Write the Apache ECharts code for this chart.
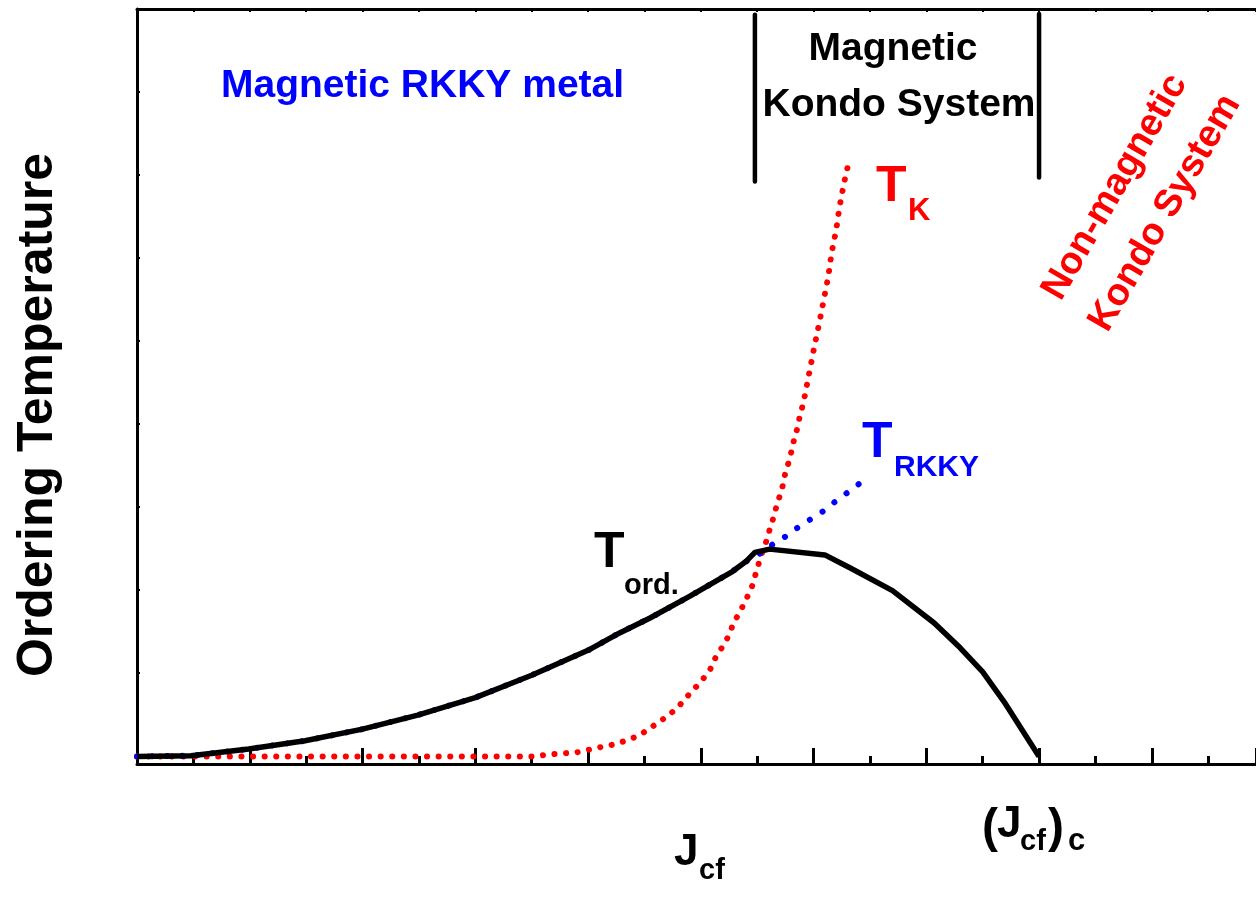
<!DOCTYPE html>
<html>
<head>
<meta charset="utf-8">
<script src="https://cdn.jsdelivr.net/npm/echarts@6/dist/echarts.min.js"></script>
<style>
  html, body { margin: 0; padding: 0; background: #ffffff; }
  #chart { width: 1256px; height: 901px; }
</style>
</head>
<body>
<div id="chart"></div>
<script>
// Ordering temperature T_ord versus J_cf (solid black)
const tOrdX = [0, 0.48, 0.99, 1.49, 2.0, 2.49, 3.0, 3.5, 4.0, 4.28, 4.55, 4.9, 5.28, 5.4, 5.48, 5.61, 6.1, 6.33, 6.7, 7.07, 7.3, 7.5, 7.69, 8.0];
const tOrdY = [0.09, 0.10, 0.18, 0.28, 0.42, 0.59, 0.80, 1.07, 1.37, 1.58, 1.76, 2.02, 2.32, 2.44, 2.55, 2.59, 2.52, 2.36, 2.09, 1.70, 1.40, 1.11, 0.75, 0.09];

// Kondo temperature T_K (red dotted)
const tKX = [0, 1, 2, 3, 3.5, 3.69, 3.9, 4.0, 4.1, 4.21, 4.31, 4.41, 4.52, 4.62, 4.72, 4.82, 4.91, 5.0, 5.08, 5.13, 5.19, 5.25, 5.29, 5.35, 5.4, 5.45, 5.48, 5.51, 5.54, 5.58, 5.61, 5.64, 5.67, 5.70, 5.73, 5.75, 5.78, 5.81, 5.83, 5.86, 5.88, 5.91, 6.01, 6.05, 6.09, 6.13, 6.16, 6.2, 6.23, 6.27, 6.30];
const tKY = [0.09, 0.09, 0.09, 0.09, 0.09, 0.12, 0.14, 0.17, 0.20, 0.23, 0.27, 0.32, 0.40, 0.50, 0.59, 0.72, 0.86, 0.99, 1.13, 1.28, 1.41, 1.55, 1.70, 1.84, 1.98, 2.12, 2.26, 2.40, 2.53, 2.68, 2.82, 2.95, 3.10, 3.23, 3.37, 3.51, 3.64, 3.80, 3.93, 4.06, 4.21, 4.35, 5.05, 5.31, 5.59, 5.87, 6.16, 6.43, 6.71, 7.0, 7.18];

// RKKY temperature T_RKKY (blue dotted; runs under T_ord until the crossing)
const tRkkyX = [0, 0.48, 0.99, 1.49, 2.0, 2.49, 3.0, 3.5, 4.0, 4.28, 4.55, 4.9, 5.28, 5.4, 5.54, 5.64, 5.75, 5.85, 5.95, 6.06, 6.16, 6.26, 6.37, 6.47, 6.5];
const tRkkyY = [0.09, 0.10, 0.18, 0.28, 0.42, 0.59, 0.80, 1.07, 1.37, 1.58, 1.76, 2.02, 2.32, 2.44, 2.55, 2.65, 2.74, 2.84, 2.93, 3.02, 3.13, 3.23, 3.34, 3.45, 3.48];

// Regime boundaries (vertical bars at the top of the panel)
const boundaryX = [5.48, 8.0];
const boundaryLow = [7.02, 7.07];
const boundaryHigh = [9.03, 9.04];

const FONT = '"Liberation Sans", Arial, Helvetica, sans-serif';

function pairs(xs, ys) { return xs.map((x, i) => [x, ys[i]]); }

function txt(x, y, text, size, color, extra) {
  return Object.assign({
    type: 'text', x: x, y: y, z: 100,
    style: {
      text: text, fill: color,
      fontFamily: FONT, fontWeight: 'bold', fontSize: size,
      align: 'left', verticalAlign: 'middle',
      textAlign: 'left', textVerticalAlign: 'middle'
    }
  }, extra || {});
}
function centered(el) {
  el.style.align = 'center'; el.style.textAlign = 'center';
  return el;
}

const chart = echarts.init(document.getElementById('chart'), null, { renderer: 'canvas' });

const boundarySeries = boundaryX.map((x, i) => ({
  type: 'line', xAxisIndex: 0, yAxisIndex: 0, symbol: 'none', silent: true, z: 5,
  data: [[x, boundaryLow[i]], [x, boundaryHigh[i]]],
  lineStyle: { color: '#000', width: 4.5, cap: 'round' }
}));

const tilt = 60 * Math.PI / 180;

chart.setOption({
  animation: false,
  backgroundColor: '#ffffff',
  grid: { left: 137, top: 9, bottom: 137, right: 0, containLabel: false },
  xAxis: [
    {
      type: 'value', position: 'bottom', min: 0, max: 9.924, interval: 1,
      axisLine: { show: true, onZero: false, lineStyle: { color: '#000', width: 3 } },
      axisTick: { show: true, inside: true, length: 16, lineStyle: { color: '#000', width: 3 } },
      minorTick: { show: true, splitNumber: 2, length: 8, lineStyle: { color: '#000', width: 3 } },
      axisLabel: { show: false }, splitLine: { show: false }, minorSplitLine: { show: false }
    },
    {
      type: 'value', position: 'top', min: 0, max: 9.924, interval: 0.5,
      axisLine: { show: true, onZero: false, lineStyle: { color: '#000', width: 3 } },
      axisTick: { show: true, inside: true, length: 3, lineStyle: { color: '#000', width: 2 } },
      axisLabel: { show: false }, splitLine: { show: false }
    }
  ],
  yAxis: [
    {
      type: 'value', position: 'left', min: 0, max: 9.1,
      axisLine: { show: true, onZero: false, lineStyle: { color: '#000', width: 3 } },
      axisTick: { show: false }, axisLabel: { show: false }, splitLine: { show: false }
    },
    {
      type: 'value', position: 'left', inverse: true, min: 0, max: 9.1, interval: 1,
      axisLine: { show: false },
      axisTick: { show: true, inside: true, length: 3, lineStyle: { color: '#000', width: 2 } },
      axisLabel: { show: false }, splitLine: { show: false }
    }
  ],
  series: [
    {
      name: 'T_K', type: 'line', symbol: 'none', z: 2, silent: true,
      data: pairs(tKX, tKY),
      lineStyle: { color: '#ff0000', width: 6, type: [0.1, 11.5], cap: 'round' }
    },
    {
      name: 'T_RKKY', type: 'line', symbol: 'none', z: 3, silent: true,
      data: pairs(tRkkyX, tRkkyY),
      lineStyle: { color: '#0000ff', width: 6, type: [0.1, 15], cap: 'round' }
    },
    {
      name: 'T_ord', type: 'line', symbol: 'none', z: 4, silent: true,
      data: pairs(tOrdX, tOrdY),
      lineStyle: { color: '#000000', width: 5.5, join: 'round' }
    }
  ].concat(boundarySeries),
  graphic: [
    // axis title
    centered(txt(38, 415, 'Ordering Temperature', 50, '#000', { rotation: Math.PI / 2 })),
    // regime names
    txt(221, 86, 'Magnetic RKKY metal', 39, '#0000ff'),
    centered(txt(893, 49, 'Magnetic', 39, '#000')),
    centered(txt(899, 105, 'Kondo System', 39, '#000')),
    centered(txt(1115, 187, 'Non-magnetic', 38, '#ff0000', { rotation: tilt })),
    centered(txt(1165, 213, 'Kondo System', 38, '#ff0000', { rotation: tilt })),
    // curve labels
    txt(876, 187, 'T', 50, '#ff0000'),
    txt(908, 211, 'K', 31, '#ff0000'),
    txt(862, 443, 'T', 50, '#0000ff'),
    txt(894, 468, 'RKKY', 30, '#0000ff'),
    txt(594, 553, 'T', 50, '#000'),
    txt(624, 586, 'ord.', 29, '#000'),
    // J_cf axis annotations
    txt(674, 853, 'J', 44, '#000'),
    txt(699, 871, 'cf', 29, '#000'),
    txt(982, 829, '(', 48, '#000'),
    txt(997, 825, 'J', 44, '#000'),
    txt(1020, 842, 'cf', 29, '#000'),
    txt(1048, 829, ')', 48, '#000'),
    txt(1068, 841, 'c', 31, '#000')
  ]
});
</script>
</body>
</html>
